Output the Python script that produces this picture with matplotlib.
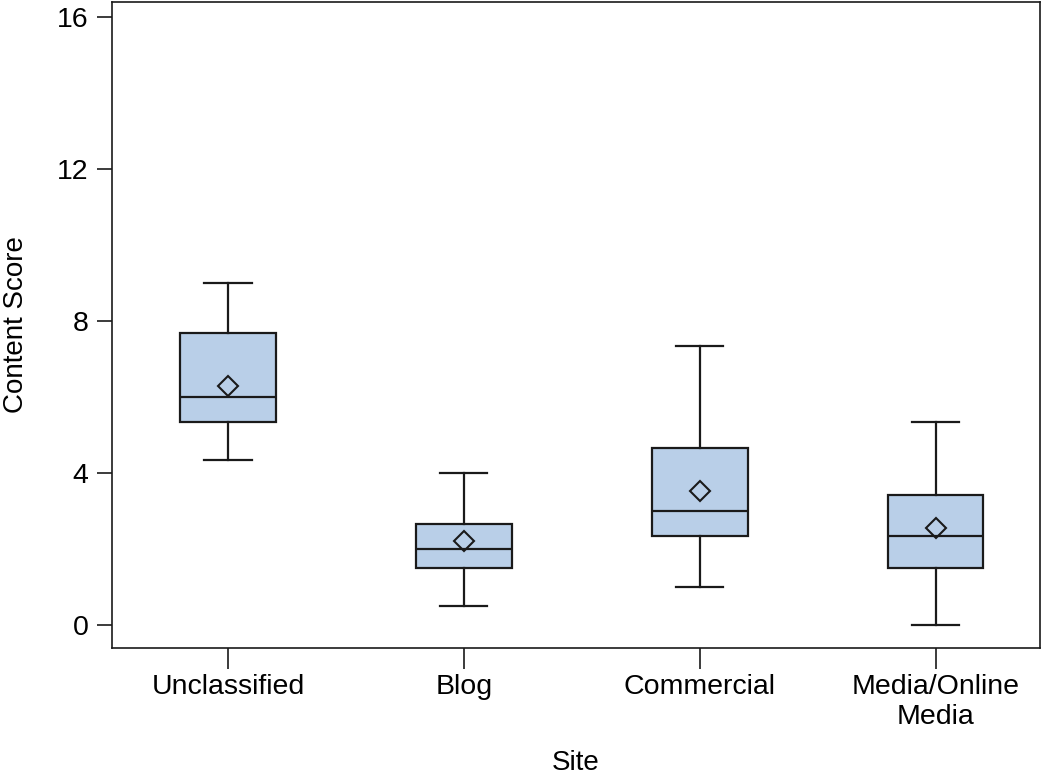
import matplotlib
matplotlib.use("Agg")
import matplotlib.pyplot as plt

# ----------------------------------------------------------------------------
# Data (content score by site type)
# ----------------------------------------------------------------------------
sites    = ["Unclassified", "Blog", "Commercial", "Media/Online\nMedia"]
whis_lo  = [4.33, 0.5, 1.0, 0.0]
q1       = [5.33, 1.5, 2.33, 1.5]
medians  = [6.0, 2.0, 3.0, 2.33]
q3       = [7.67, 2.67, 4.67, 3.42]
whis_hi  = [9.0, 4.0, 7.33, 5.33]
means    = [6.3, 2.2, 3.53, 2.55]

plt.rcParams["font.family"] = ["Liberation Sans", "DejaVu Sans"]

stats = [dict(label=s, whislo=lo, q1=a, med=m, q3=b, whishi=hi, mean=mu, fliers=[])
         for s, lo, a, m, b, hi, mu in zip(sites, whis_lo, q1, medians, q3, whis_hi, means)]

fig = plt.figure(figsize=(10.5, 7.75), dpi=100)
ax = fig.add_axes([0.107, 0.164, 0.883, 0.834])

edge = "#1a1a1a"
ax.bxp(stats, positions=range(1, len(sites) + 1), widths=0.405, patch_artist=True,
       showmeans=True, showfliers=False,
       boxprops=dict(facecolor="#b9cfe8", edgecolor=edge, linewidth=1.6),
       medianprops=dict(color=edge, linewidth=1.6),
       whiskerprops=dict(color=edge, linewidth=1.6),
       capprops=dict(color=edge, linewidth=1.6),
       capwidths=0.2,
       meanprops=dict(marker="D", markerfacecolor="none", markeredgecolor=edge,
                      markersize=10, markeredgewidth=1.5))

ax.set_xlim(0.51, 4.44)
ax.set_ylim(-0.6, 16.4)
ax.set_yticks([0, 4, 8, 12, 16])
ax.tick_params(axis="both", labelsize=20.5, width=1.2, color=edge)
ax.tick_params(axis="y", length=11, pad=6)
ax.tick_params(axis="x", length=15, pad=4)
for sp in ax.spines.values():
    sp.set_linewidth(1.2)
    sp.set_color(edge)

ax.set_ylabel("Content Score", fontsize=20, labelpad=20)
ax.set_xlabel("Site", fontsize=20, labelpad=14)

fig.savefig("out.png", dpi=100)
